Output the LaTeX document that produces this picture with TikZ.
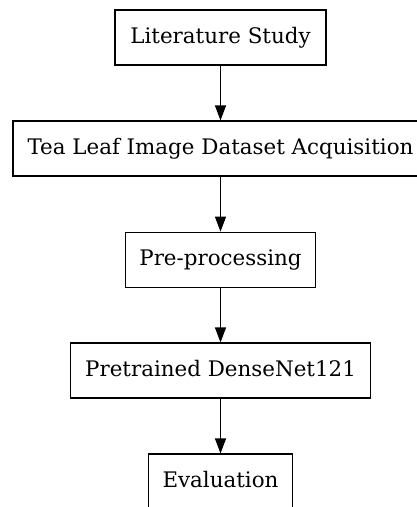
\documentclass[tikz,border=0pt]{standalone}
\usepackage{fontspec}
\setmainfont{DejaVu Serif}
\usetikzlibrary{arrows.meta}
\begin{document}
\begin{tikzpicture}[x=1pt,y=-1pt,
  stage/.style={draw=black, line width=1.1pt, rectangle, minimum height=55pt,
    inner xsep=0pt, text height=16pt, text depth=4.5pt,
    font=\fontsize{21.4}{25}\selectfont},
  flow/.style={-{Triangle[length=15pt,width=11pt]}, line width=1.1pt}]
\useasboundingbox (0,0) rectangle (417,507);
\node[stage, minimum width=211pt] (lit)  at (220.5,37.5)  {Literature Study};
\node[stage, minimum width=415pt] (data) at (220.5,148.5) {Tea Leaf Image Dataset Acquisition};
\node[stage, minimum width=190pt] (pre)  at (220.5,259.7) {Pre-processing};
\node[stage, minimum width=300pt] (net)  at (220.5,370.5) {Pretrained DenseNet121};
\node[stage, minimum width=144pt] (eval) at (220.5,481.5) {Evaluation};
\draw[flow] (lit.south)  -- (data.north);
\draw[flow] (data.south) -- (pre.north);
\draw[flow] (pre.south)  -- (net.north);
\draw[flow] (net.south)  -- (eval.north);
\end{tikzpicture}
\end{document}
